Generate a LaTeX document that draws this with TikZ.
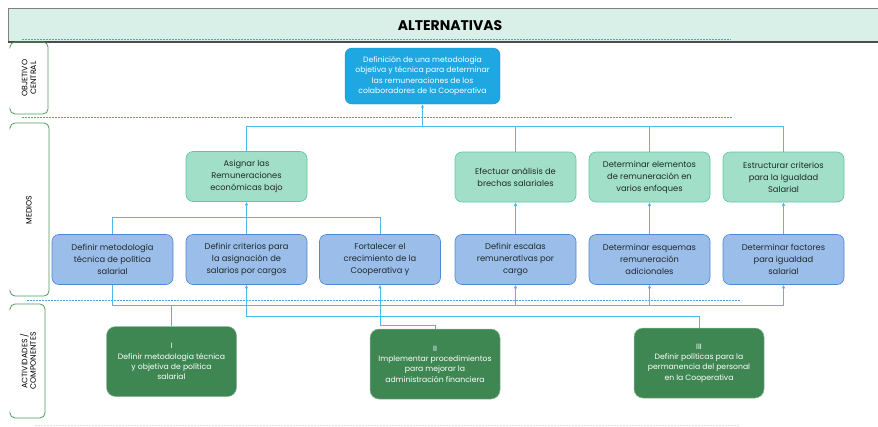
\documentclass[tikz,border=0pt]{standalone}
\usepackage{fontspec}
\setmainfont{Poppins}
\usetikzlibrary{arrows.meta}

\definecolor{titlefill}{HTML}{D8F0E8}
\definecolor{labelgreen}{HTML}{4E9A5E}
\definecolor{dashblue}{HTML}{5B9BD5}
\definecolor{connblue}{HTML}{4BB9E9}
\definecolor{centralfill}{HTML}{1EA7E1}
\definecolor{centraldraw}{HTML}{1690C6}
\definecolor{mintfill}{HTML}{A2DFC8}
\definecolor{mintdraw}{HTML}{5CC6A0}
\definecolor{bluefill}{HTML}{9BBDEA}
\definecolor{bluedraw}{HTML}{4F87D3}
\definecolor{actfill}{HTML}{3E8753}
\definecolor{actdraw}{HTML}{8DB89A}
\definecolor{boxtext}{HTML}{1F2A2A}

\tikzset{
  rowline/.style={dashblue, line width=0.8pt, dash pattern=on 2pt off 1pt},
  sidebox/.style={labelgreen, line width=0.8pt, rounded corners=5pt},
  sidetext/.style={rotate=90, align=center, font=\fontsize{7.8}{8.6}\selectfont},
  conn/.style={connblue, line width=0.7pt},
  arr/.style={-{Latex[length=3.5pt,width=3.5pt]}},
  central/.style={rounded corners=7pt, fill=centralfill, draw=centraldraw, text=white,
    minimum width=155pt, minimum height=56pt, align=center,
    font=\fontsize{7.7}{10.5}\selectfont},
  mediobox/.style={rounded corners=7pt, line width=0.6pt, minimum width=121pt,
    minimum height=50pt, align=center, text=boxtext, font=\fontsize{8.3}{12}\selectfont},
  mintbox/.style={mediobox, fill=mintfill, draw=mintdraw},
  bluebox/.style={mediobox, fill=bluefill, draw=bluedraw},
  actbox/.style={rounded corners=9pt, fill=actfill, draw=actdraw, line width=0.5pt,
    text=white, minimum width=130pt, minimum height=70pt, align=center,
    font=\fontsize{7.7}{10.3}\selectfont},
}

\begin{document}
\begin{tikzpicture}[x=1pt, y=-1pt]
  \useasboundingbox (0,0) rectangle (878,426);

  % Title bar
  \fill[titlefill] (8,8) rectangle (878,42);
  \draw[gray, line width=0.8pt] (878,8) -- (8,8) -- (8,42);
  \draw[black!70, line width=1.6pt] (8,42) -- (878,42);
  \node[font=\bfseries\fontsize{14}{16}\selectfont] (title) at (450,26) {ALTERNATIVAS};

  % Dashed row separators
  \draw[rowline] (22,39) -- (731,39);
  \draw[rowline] (22,117) -- (732,117);
  \draw[rowline] (27,300) -- (740,300);
  \draw[black!12, line width=0.6pt, dash pattern=on 1.5pt off 1.5pt] (35,425) -- (740,425);

  % Side labels
  \draw[sidebox] (10,46) -- (10,42) -- (48,42) -- (48,114) -- (10,114) -- (10,110);
  \node[sidetext] (lobj) at (29,78) {OBJETIVO\\CENTRAL};
  \draw[sidebox] (10,127) -- (10,123) -- (49,123) -- (49,296) -- (10,296) -- (10,292);
  \node[sidetext] (lmed) at (29,210) {MEDIOS};
  \draw[sidebox] (10,308) -- (10,304) -- (45,304) -- (45,418) -- (10,418) -- (10,414);
  \node[sidetext] (lact) at (28,361) {ACTIVIDADES /\\COMPONENTES};

  % Objetivo central
  \node[central] (obj) at (422.5,76) {Definición de una metodologia\\objetiva y técnica para determinar\\las remuneraciones de los\\colaboradores de la Cooperativa};

  % Medios, upper row
  \node[mintbox] (g1) at (246.5,176.5) {Asignar las\\Remuneraciones\\económicas bajo};
  \node[mintbox] (g2) at (515.5,177) {Efectuar análisis de\\brechas salariales};
  \node[mintbox] (g3) at (649.5,177) {Determinar elementos\\de remuneración en\\varios enfoques};
  \node[mintbox] (g4) at (783.5,177) {Estructurar criterios\\para la Igualdad\\Salarial};

  % Medios, lower row
  \node[bluebox] (b1) at (112.5,259.5) {Definir metodología\\técnica de política\\salarial};
  \node[bluebox] (b2) at (246.5,259.5) {Definir criterios para\\la asignación de\\salarios por cargos};
  \node[bluebox] (b3) at (380,259.5) {Fortalecer el\\crecimiento de la\\Cooperativa y};
  \node[bluebox] (b4) at (515.5,259.5) {Definir escalas\\remunerativas por\\cargo};
  \node[bluebox] (b5) at (649.5,259.5) {Determinar esquemas\\remuneración\\adicionales};
  \node[bluebox] (b6) at (783.5,259.5) {Determinar factores\\para igualdad\\salarial};

  % Actividades / componentes
  \node[actbox] (a1) at (171.5,361.5) {I\\Definir metodologia técnica\\y objetiva de política\\salarial};
  \node[actbox] (a2) at (435,364) {II\\Implementar procedimientos\\para mejorar la\\administración financiera};
  \node[actbox] (a3) at (699,363) {III\\Definir políticas para la\\permanencia del personal\\en la Cooperativa};

  % Upper connectors to the central objective
  \coordinate (busT) at (0,126);
  \draw[conn] (g1.north) -- (g1.north |- busT) -- (g4.north |- busT) -- (g4.north);
  \draw[conn] (g2.north) -- (g2.north |- busT);
  \draw[conn] (g3.north) -- (g3.north |- busT);
  \draw[conn, arr] (obj.south |- busT) -- (obj.south);

  % Lower row to upper row
  \coordinate (busM) at (0,217);
  \draw[conn] (b1.north) -- (b1.north |- busM) -- (b3.north |- busM) -- (b3.north);
  \draw[conn, arr] (b2.north) -- (g1.south);
  \draw[conn, arr] (b4.north) -- (g2.south);
  \draw[conn, arr] (b5.north) -- (g3.south);
  \draw[conn, arr] (b6.north) -- (g4.south);

  % Activities to medios
  \coordinate (busA) at (0,305);
  \coordinate (busB) at (0,316);
  \coordinate (busC) at (0,325);
  \draw[conn] (b1.south) -- (b1.south |- busA) -- (b6.south |- busA);
  \draw[conn] (a1.north) -- (a1.north |- busA);
  \draw[conn, arr] (b4.south |- busA) -- (b4.south);
  \draw[conn, arr] (b5.south |- busA) -- (b5.south);
  \draw[conn, arr] (b6.south |- busA) -- (b6.south);
  \draw[conn, arr] (a3.north) |- (b2.south |- busB) -- (b2.south);
  \draw[conn, arr] (a2.north) |- (b3.south |- busC) -- (b3.south);
\end{tikzpicture}
\end{document}
